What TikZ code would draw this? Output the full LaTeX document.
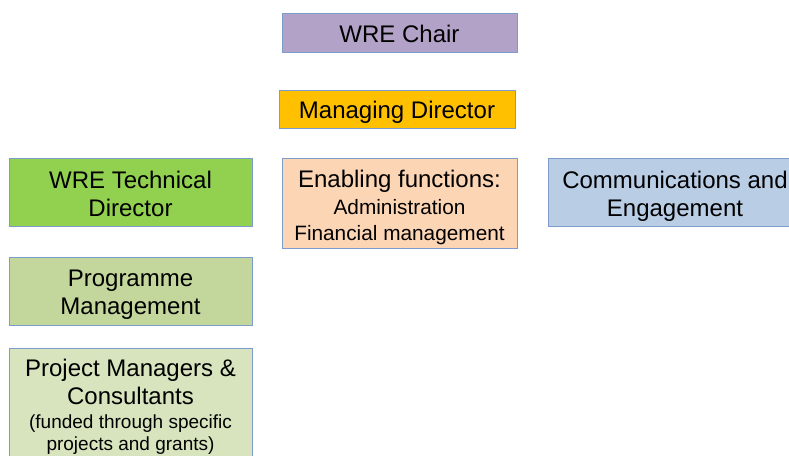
\documentclass[tikz,border=0pt]{standalone}
\usepackage{fontspec}
\setmainfont{Liberation Sans}
\definecolor{edgeblue}{RGB}{124,156,204}
\definecolor{chairfill}{HTML}{B3A2C7}
\definecolor{mdfill}{HTML}{FFC000}
\definecolor{techfill}{HTML}{92D050}
\definecolor{progfill}{HTML}{C3D69B}
\definecolor{projfill}{HTML}{D7E4BD}
\definecolor{enablefill}{HTML}{FCD5B5}
\definecolor{commsfill}{HTML}{B9CDE5}
\newcommand{\subtext}[1]{{\fontsize{20.8}{25}\selectfont #1}}
\newcommand{\notetext}[1]{{\fontsize{19}{22}\selectfont #1}}
\tikzset{
  orgbox/.style={draw=edgeblue, line width=1pt, rectangle, inner sep=0pt},
  boxtext/.style={align=center, inner sep=0pt,
    font=\fontsize{24}{28}\selectfont, text=black},
}
\begin{document}
\begin{tikzpicture}[x=1pt,y=1pt]
\useasboundingbox (0,0) rectangle (789,455);
% boxes
\node[orgbox, fill=chairfill, minimum width=235, minimum height=39] (chair) at (399.5,421.5) {};
\node[orgbox, fill=mdfill, minimum width=236, minimum height=38] (md) at (397,345) {};
\node[orgbox, fill=techfill, minimum width=243, minimum height=68] (tech) at (130.5,262) {};
\node[orgbox, fill=enablefill, minimum width=235, minimum height=90] (enable) at (399.5,251) {};
\node[orgbox, fill=commsfill, minimum width=254, minimum height=68] (comms) at (675,262) {};
\node[orgbox, fill=progfill, minimum width=243, minimum height=68] (prog) at (130.5,163) {};
\node[orgbox, fill=projfill, minimum width=243, minimum height=116] (proj) at (130.5,48) {};
% box texts
\node[boxtext] (chairtext) at ([yshift=-0.5]chair.center) {WRE Chair};
\node[boxtext] (mdtext) at ([yshift=-2]md.center) {Managing Director};
\node[boxtext] (techtext) at ([yshift=-1]tech.center) {WRE Technical\\Director};
\node[boxtext] (enabletext) at ([yshift=-3]enable.center) {Enabling functions:\\[-1pt]\subtext{Administration}\\[-2pt]\subtext{Financial management}};
\node[boxtext] (commstext) at ([yshift=-3]comms.center) {Communications and\\Engagement};
\node[boxtext] (progtext) at ([yshift=-3]prog.center) {Programme\\Management};
\node[boxtext, anchor=north] (projtext) at ([yshift=-10]proj.north) {Project Managers \&\\Consultants\\[-4pt]\notetext{(funded through specific}\\[-6pt]\notetext{projects and grants)}};
\end{tikzpicture}
\end{document}
